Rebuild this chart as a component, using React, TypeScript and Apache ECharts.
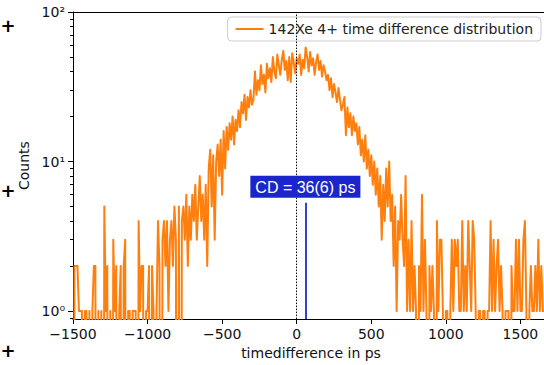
import React, { useEffect, useRef } from "react";
import * as echarts from "echarts";

const binStart = -1500;
const binWidth = 10;
const counts = [
  0, 2, 2, 2, 1, 1, 1, 0, 1, 1,
  0, 1, 0, 1, 2, 2, 0, 1, 0, 1,
  0, 5, 1, 2, 0, 1, 0, 3, 1, 2,
  0, 1, 2, 0, 2, 3, 0, 1, 1, 0,
  1, 1, 1, 0, 4, 1, 2, 2, 0, 1,
  1, 2, 0, 2, 1, 0, 1, 4, 2, 0,
  3, 4, 2, 4, 1, 3, 4, 2, 5, 3,
  0, 5, 0, 4, 5, 3, 6, 2, 5, 3,
  6, 4, 7, 3, 5, 8, 4, 6, 3, 7,
  2, 9, 12, 5, 11, 3, 10, 13, 8, 14,
  6, 16, 9, 17, 12, 18, 14, 20, 13, 19,
  16, 22, 17, 25, 21, 28, 19, 27, 23, 30,
  24, 26, 40, 28, 35, 30, 44, 33, 38, 29,
  45, 36, 42, 34, 50, 40, 36, 52, 44, 38,
  48, 55, 41, 47, 35, 50, 34, 53, 46, 39,
  49, 45, 52, 38, 48, 42, 58, 50, 40, 54,
  44, 49, 38, 46, 52, 41, 47, 37, 44, 40,
  35, 38, 30, 36, 27, 33, 29, 25, 31, 26,
  22, 24, 27, 15, 23, 17, 21, 15, 20, 16,
  18, 13, 17, 11, 14, 10, 15, 9, 12, 8,
  11, 7, 10, 6, 9, 5, 8, 3, 7, 4,
  9, 5, 10, 4, 6, 2, 5, 1, 4, 3,
  6, 3, 2, 8, 1, 3, 1, 4, 1, 2,
  1, 0, 2, 1, 6, 1, 3, 1, 0, 2,
  1, 2, 1, 0, 4, 1, 3, 3, 1, 0,
  1, 1, 0, 1, 3, 1, 3, 2, 3, 1,
  1, 4, 1, 2, 1, 4, 2, 1, 4, 3,
  1, 0, 1, 1, 0, 1, 1, 0, 1, 1,
  4, 1, 3, 1, 2, 3, 1, 2, 1, 0,
  1, 1, 1, 0, 2, 1, 1, 3, 1, 3,
  1, 1, 3, 4, 1, 0, 1, 2, 1, 1,
  2, 1, 3, 1, 2, 1, 1,
];

const xMin = -1500;
const xMax = 1658;
const yMin = 0.884;
const yMax = 100;
const xTicks = [-1500, -1000, -500, 0, 500, 1000, 1500];
const yMajorTicks = [1, 10, 100];
const yTickLabels = ["10⁰", "10¹", "10²"];
const yMinorTicks = [0.9, 2, 3, 4, 5, 6, 7, 8, 9, 20, 30, 40, 50, 60, 70, 80, 90];
const seriesName = "142Xe 4+ time difference distribution";
const xName = "timedifference in ps";
const yName = "Counts";
const cdText = "CD = 36(6) ps";
const cdPosition = 58;
const cdLineTop = 5.3;
const zeroLinePos = 0;

const lg = (v: number) => Math.log10(v);
const fmtMinus = (v: number) => String(v).replace("-", "\u2212");

export default function App() {
  const ref = useRef<HTMLDivElement>(null);
  useEffect(() => {
    if (!ref.current) return;
    const chart = echarts.init(ref.current, undefined, { renderer: "svg" });
    const font = "DejaVu Sans";
    const yLo = lg(yMin);
    const yHi = lg(yMax);
    const data = counts.map((c, i) => [binStart + i * binWidth, c > 0 ? lg(c) : -5]);
    const plus = (y: number) => ({
      type: "text",
      x: 8,
      y,
      style: { text: "+", fontSize: 18, fontWeight: "bold", fontFamily: font, fill: "#000", align: "center", verticalAlign: "middle" },
    });
    chart.setOption({
      animation: false,
      backgroundColor: "#fff",
      grid: { left: 73, top: 12, right: 0, bottom: 45 },
      legend: {
        data: [seriesName],
        right: 3,
        top: 17,
        padding: [5, 8, 5, 8],
        itemWidth: 28,
        itemHeight: 2,
        icon: "rect",
        borderColor: "#cccccc",
        borderWidth: 1,
        borderRadius: 4,
        backgroundColor: "rgba(255,255,255,0.8)",
        textStyle: { fontFamily: font, fontSize: 14, color: "#222" },
      },
      xAxis: [
        {
          type: "value",
          min: xMin,
          max: xMax,
          position: "bottom",
          name: xName,
          nameLocation: "middle",
          nameGap: 26,
          nameTextStyle: { fontFamily: font, fontSize: 14, color: "#111", padding: [0, 0, 0, 5] },
          axisLine: { show: true, onZero: false, lineStyle: { color: "#000", width: 1 } },
          axisTick: { show: true, length: 5, customValues: xTicks, lineStyle: { color: "#000" } },
          axisLabel: {
            customValues: xTicks,
            formatter: (v: number) => fmtMinus(v),
            fontFamily: font,
            fontSize: 14,
            color: "#111",
            margin: 8,
          },
          splitLine: { show: false },
        },
        {
          type: "value",
          min: xMin,
          max: xMax,
          position: "top",
          axisLine: { show: true, onZero: false, lineStyle: { color: "#000", width: 1 } },
          axisTick: { show: false },
          axisLabel: { show: false },
          splitLine: { show: false },
        },
      ],
      yAxis: [
        {
          type: "value",
          min: yLo,
          max: yHi,
          position: "left",
          name: yName,
          nameLocation: "middle",
          nameGap: 37,
          nameTextStyle: { fontFamily: font, fontSize: 14, color: "#111" },
          axisLine: { show: true, onZero: false, lineStyle: { color: "#000", width: 1 } },
          axisTick: { show: true, length: 5, customValues: yMajorTicks.map(lg), lineStyle: { color: "#000" } },
          axisLabel: {
            customValues: yMajorTicks.map(lg),
            formatter: (v: number) => yTickLabels[Math.round(v)],
            fontFamily: font,
            fontSize: 14,
            color: "#111",
            margin: 8,
          },
          splitLine: { show: false },
        },
        {
          type: "value",
          min: yLo,
          max: yHi,
          position: "left",
          axisLine: { show: false, onZero: false },
          axisTick: { show: true, length: 3, customValues: yMinorTicks.map(lg), lineStyle: { color: "#000" } },
          axisLabel: { show: false },
          splitLine: { show: false },
        },
      ],
      series: [
        {
          name: seriesName,
          type: "line",
          xAxisIndex: 0,
          yAxisIndex: 0,
          data,
          showSymbol: false,
          symbol: "none",
          clip: true,
          color: "#ff7f0e",
          lineStyle: { color: "#ff7f0e", width: 2, join: "round" },
          markLine: {
            silent: true,
            symbol: ["none", "none"],
            animation: false,
            data: [
              {
                xAxis: zeroLinePos,
                lineStyle: { color: "#000", type: [1.5, 1.5], width: 1 },
                label: { show: false },
              },
              [
                {
                  coord: [cdPosition, yLo],
                  lineStyle: { color: "#3344cc", type: "solid", width: 2 },
                  label: {
                    show: true,
                    position: "end",
                    formatter: cdText,
                    color: "#fff",
                    backgroundColor: "#1a26cc",
                    padding: [4, 5, 2, 5],
                    fontFamily: "Liberation Sans",
                    fontSize: 16,
                    distance: 5,
                  },
                },
                { coord: [cdPosition, lg(cdLineTop)] },
              ],
            ],
          },
        },
      ],
      graphic: [plus(25), plus(190), plus(350)],
    });
    return () => chart.dispose();
  }, []);
  return <div ref={ref} style={{ position: "fixed", left: 0, top: 0, width: 544, height: 365 }} />;
}
